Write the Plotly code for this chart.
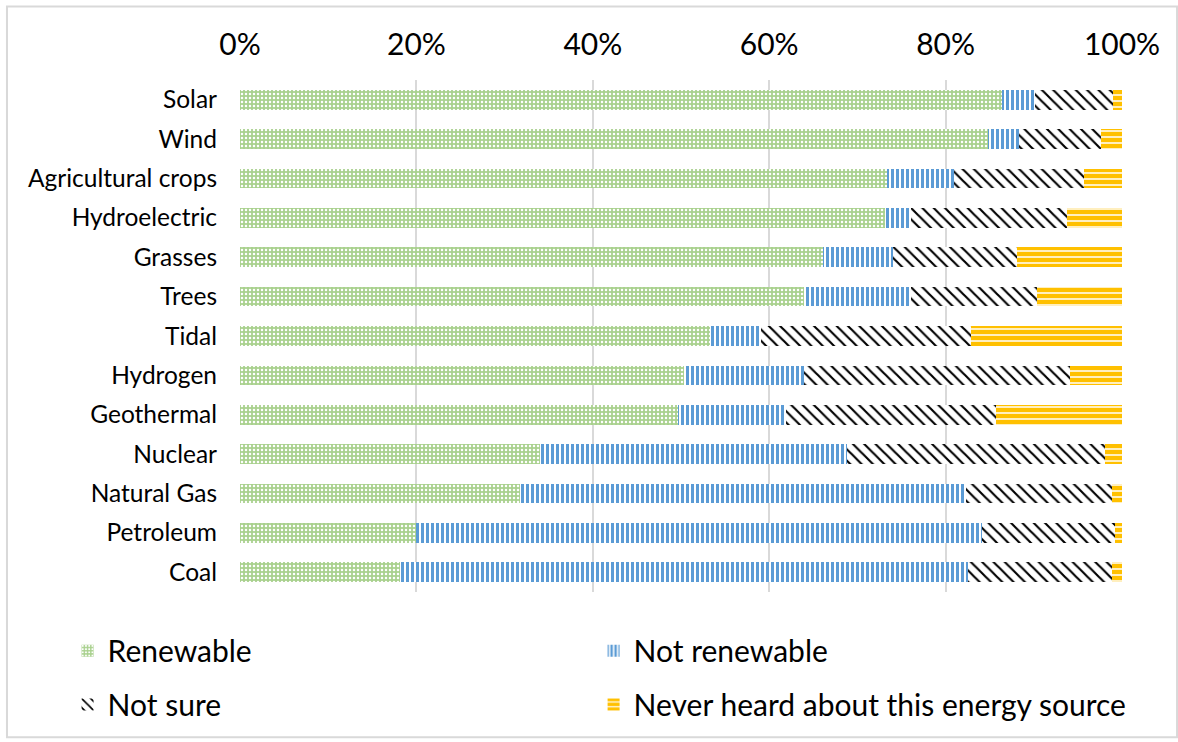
import plotly.graph_objects as go

# Survey: how respondents classify each energy source (% of answers)
categories = ["Solar", "Wind", "Agricultural crops", "Hydroelectric", "Grasses",
              "Trees", "Tidal", "Hydrogen", "Geothermal", "Nuclear",
              "Natural Gas", "Petroleum", "Coal"]
renewable = [86.4, 84.8, 73.4, 73.1, 66.1, 64.0, 53.3, 50.3, 49.7, 34.0, 31.7, 19.9, 18.1]
not_renewable = [3.7, 3.5, 7.6, 3.0, 7.9, 12.1, 5.8, 13.6, 12.2, 34.8, 50.6, 64.2, 64.4]
not_sure = [8.9, 9.3, 14.7, 17.7, 14.1, 14.3, 23.8, 30.2, 23.8, 29.3, 16.6, 15.1, 16.4]
never_heard = [1.0, 2.4, 4.3, 6.2, 11.9, 9.6, 17.1, 5.9, 14.3, 1.9, 1.1, 0.8, 1.1]

series_names = ["Renewable", "Not renewable", "Not sure",
                "Never heard about this energy source"]
tick_values = [0, 20, 40, 60, 80, 100]
tick_labels = ["0%", "20%", "40%", "60%", "80%", "100%"]

FONT = "Lato, Carlito, Calibri, sans-serif"
GRID = "#D9D9D9"

styles = [
    dict(shape=".", fgcolor="white", bgcolor="#A9D18E", size=4, solidity=0.3),
    dict(shape="|", fgcolor="#5B9BD5", bgcolor="white", size=5, solidity=0.6),
    dict(shape="\\", fgcolor="black", bgcolor="white", size=8, solidity=0.27),
    dict(shape="-", fgcolor="white", bgcolor="#FFC000", size=6, solidity=0.25),
]
# one legend per entry, laid out as a 2x2 grid under the plot
legend_ids = ["legend", "legend2", "legend3", "legend4"]
legend_x = [-0.1955, 0.4009, -0.1955, 0.4009]
legend_y = [-0.1147, -0.1147, -0.2195, -0.2195]

fig = go.Figure()
for name, vals, pat, lg in zip(series_names,
                               [renewable, not_renewable, not_sure, never_heard],
                               styles, legend_ids):
    fig.add_trace(go.Bar(
        y=categories, x=vals, name=name, orientation="h", showlegend=True,
        marker=dict(color=pat["bgcolor"], line=dict(width=0),
                    pattern=dict(fillmode="replace", **pat)),
        legend=lg,
    ))

legends = {}
for lg, lx, ly in zip(legend_ids, legend_x, legend_y):
    legends[lg] = dict(
        x=lx, y=ly, orientation="h", xanchor="left", yanchor="middle",
        font=dict(family=FONT, size=30, color="#000000"),
        bgcolor="rgba(0,0,0,0)",
    )

fig.update_layout(
    width=1178, height=742,
    margin=dict(l=240, r=56, t=80, b=147),
    barmode="stack", bargap=0.5, showlegend=True,
    plot_bgcolor="white", paper_bgcolor="white",
    font=dict(family=FONT, color="#000000"),
    xaxis=dict(
        side="top", range=[0, 100], tickvals=tick_values, ticktext=tick_labels,
        showgrid=True, gridcolor=GRID, gridwidth=2, zeroline=False,
        showline=False, ticks="", tickfont=dict(family=FONT, size=30),
        ticklabelstandoff=18,
    ),
    yaxis=dict(
        categoryorder="array", categoryarray=categories, autorange="reversed",
        showgrid=False, zeroline=False, showline=False, ticks="",
        tickfont=dict(family=FONT, size=24.5), ticklabelstandoff=22,
    ),
    shapes=[dict(type="rect", xref="paper", yref="paper",
                 x0=-0.2642, x1=1.0624, y0=-0.2835, y1=1.1437,
                 line=dict(color=GRID, width=2), fillcolor="rgba(0,0,0,0)",
                 layer="below")],
    **legends,
)

fig.write_html("out.html")
